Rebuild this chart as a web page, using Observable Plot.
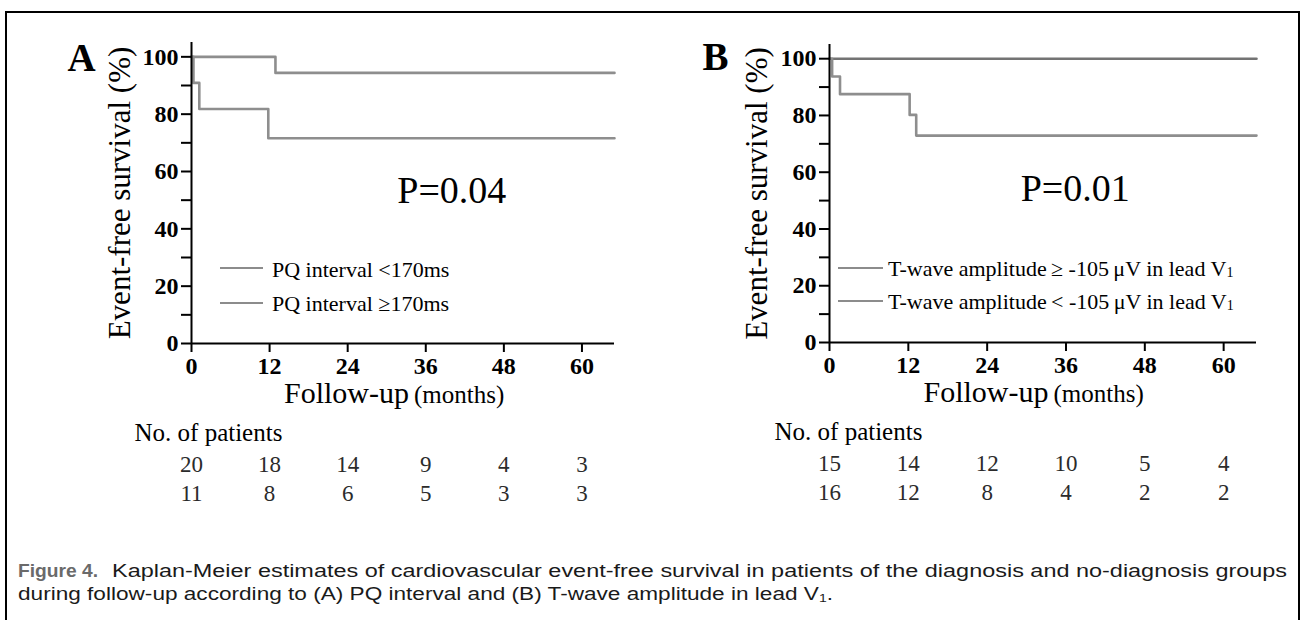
<!DOCTYPE html>
<html>
<head>
<meta charset="utf-8">
<script src="https://cdn.jsdelivr.net/npm/d3@7"></script>
<script src="https://cdn.jsdelivr.net/npm/@observablehq/plot@0.6"></script>
<style>
  html, body { margin: 0; padding: 0; background: #fff; width: 1304px; height: 620px; overflow: hidden; }
  #frame { position: absolute; left: 5px; top: 11px; width: 1295px; height: 700px; border: 2.5px solid #000; box-sizing: border-box; }
  .panel { position: absolute; top: 0; }
  .leg { position: absolute; font-family: "Liberation Serif", "Times New Roman", serif; font-size: 22px; line-height: 22px; white-space: nowrap; color: #000; }
  .sw { position: absolute; height: 2.6px; background: #8c8c8c; }
  .leg sub { font-size: 14px; vertical-align: baseline; position: relative; top: 1px; }
  .cap { position: absolute; font-family: "Liberation Sans", Arial, sans-serif; font-size: 18px; color: #1a1a1a; white-space: nowrap; transform-origin: 0 0; }
  .cap sub { font-size: 0.62em; vertical-align: baseline; position: relative; top: 2px; }
  #capFig { font-weight: bold; color: #6a6a6a; }
</style>
</head>
<body>
<div id="frame"></div>
<div id="panelA" class="panel" style="left:0px"></div>
<div id="panelB" class="panel" style="left:640px"></div>
<div id="legends"></div>
<div id="capFig" class="cap">Figure 4.</div>
<div id="capL1" class="cap">Kaplan-Meier estimates of cardiovascular event-free survival in patients of the diagnosis and no-diagnosis groups</div>
<div id="capL2" class="cap">during follow-up according to (A) PQ interval and (B) T-wave amplitude in lead V<sub>1</sub>.</div>
<script>
// ---------- data ----------
const monthTicks = [0, 12, 24, 36, 48, 60];
const pctTicks = [0, 10, 20, 30, 40, 50, 60, 70, 80, 90, 100];

// Panel A: PQ interval
const aShortTimes = [0, 12.9, 65];
const aShortSurv  = [100, 94.4, 94.4];
const aLongTimes  = [0, 0.3, 1.2, 11.8, 65];
const aLongSurv   = [100, 90.9, 81.8, 71.6, 71.6];
const aRiskShort  = [20, 18, 14, 9, 4, 3];
const aRiskLong   = [11, 8, 6, 5, 3, 3];
const aPValue = "P=0.04";
const aLegend = ["PQ interval <170ms", "PQ interval \u2265170ms"];

// Panel B: T-wave amplitude in V1
const bHighTimes = [0, 65];
const bHighSurv  = [100, 100];
const bLowTimes  = [0, 0.4, 1.6, 12.2, 13.2, 65];
const bLowSurv   = [100, 93.75, 87.5, 80.2, 72.9, 72.9];
const bRiskHigh  = [15, 14, 12, 10, 5, 4];
const bRiskLow   = [16, 12, 8, 4, 2, 2];
const bPValue = "P=0.01";
const bLegend = ["T-wave amplitude\u2009\u2265 -105\u2009\u03BCV in lead V<sub>1</sub>", "T-wave amplitude\u2009< -105\u2009\u03BCV in lead V<sub>1</sub>"];

const yTitle = "Event-free survival (%)";
const patientsLabel = "No. of patients";

// ---------- helpers ----------
const toRows = (times, surv) => times.map((t, i) => ({t, s: surv[i]}));

function panel({letter, curves, risk1, risk2, pValue, pAt, marginLeft, marginRight, marginTop, marginBottom, letterDx, letterDy, titleDx, xlabDx, patientsDx}) {
  const serif = "Liberation Serif, Times New Roman, serif";
  return Plot.plot({
    width: 650,
    height: 530,
    marginLeft, marginRight, marginTop, marginBottom,
    style: {fontFamily: serif, fontSize: "24px", background: "transparent", overflow: "visible", color: "#000"},
    x: {domain: [0, 65]},
    y: {domain: [0, 105]},
    marks: [
      ...curves.map(c => Plot.line(toRows(c.times, c.surv), {x: "t", y: "s", curve: "step-after", stroke: c.color, strokeWidth: 2.6})),
      Plot.axisX({ticks: monthTicks, tickSize: 9, tickPadding: 4, label: null, fontWeight: "bold", fontSize: 24, strokeWidth: 2}),
      Plot.axisY({ticks: pctTicks, tickFormat: d => d % 20 === 0 ? d : "", tickSize: 10, tickPadding: 3, label: null, fontWeight: "bold", fontSize: 24, strokeWidth: 2}),
      Plot.ruleX([0], {strokeWidth: 2}),
      Plot.ruleY([0], {strokeWidth: 2}),
      Plot.text([letter], {frameAnchor: "top-left", dx: letterDx, dy: letterDy, lineAnchor: "bottom", fontSize: 39, fontWeight: "bold"}),
      Plot.text([yTitle], {frameAnchor: "left", rotate: -90, textAnchor: "middle", dx: titleDx, lineAnchor: "bottom", fontSize: 31}),
      Plot.text([pValue], {x: () => pAt[0], y: () => pAt[1], lineAnchor: "bottom", fontSize: 38}),
      Plot.text(["Follow-up"], {frameAnchor: "bottom", textAnchor: "end", dx: xlabDx, dy: 59, lineAnchor: "bottom", fontSize: 30}),
      Plot.text(["(months)"], {frameAnchor: "bottom", textAnchor: "start", dx: xlabDx + 5, dy: 59, lineAnchor: "bottom", fontSize: 25}),
      Plot.text([patientsLabel], {frameAnchor: "bottom-left", textAnchor: "start", dx: patientsDx, dy: 97, lineAnchor: "bottom", fontSize: 25}),
      Plot.text(monthTicks, {x: d => d, text: (d, i) => risk1[i], frameAnchor: "bottom", dy: 128, lineAnchor: "bottom", fontSize: 23, fill: "#2b2b2b"}),
      Plot.text(monthTicks, {x: d => d, text: (d, i) => risk2[i], frameAnchor: "bottom", dy: 157, lineAnchor: "bottom", fontSize: 23, fill: "#2b2b2b"})
    ]
  });
}

document.getElementById("panelA").append(panel({
  letter: "A",
  curves: [
    {times: aShortTimes, surv: aShortSurv, color: "#8e8e8e"},
    {times: aLongTimes, surv: aLongSurv, color: "#8e8e8e"}
  ],
  risk1: aRiskShort, risk2: aRiskLong,
  pValue: aPValue, pAt: [40, 49],
  marginLeft: 191, marginRight: 36, marginTop: 42, marginBottom: 187,
  letterDx: -124, letterDy: 28, titleDx: -62, xlabDx: 6, patientsDx: -57
}));

document.getElementById("panelB").append(panel({
  letter: "B",
  curves: [
    {times: bHighTimes, surv: bHighSurv, color: "#737373"},
    {times: bLowTimes, surv: bLowSurv, color: "#8e8e8e"}
  ],
  risk1: bRiskHigh, risk2: bRiskLow,
  pValue: bPValue, pAt: [37.4, 50],
  marginLeft: 189, marginRight: 34, marginTop: 44, marginBottom: 188,
  letterDx: -127, letterDy: 25, titleDx: -63, xlabDx: 5.5, patientsDx: -55
}));

// ---------- legends ----------
const legendItems = [
  {label: aLegend[0], sx: 220, sw: 43, sy: 268, tx: 272, base: 277},
  {label: aLegend[1], sx: 220, sw: 43, sy: 303, tx: 272, base: 311},
  {label: bLegend[0], sx: 838, sw: 45, sy: 268, tx: 888, base: 276},
  {label: bLegend[1], sx: 838, sw: 45, sy: 301, tx: 888, base: 309}
];
const legends = document.getElementById("legends");
legendItems.forEach(d => {
  const sw = document.createElement("div");
  sw.className = "sw";
  sw.style.left = d.sx + "px"; sw.style.top = (d.sy - 1.3) + "px"; sw.style.width = d.sw + "px";
  legends.append(sw);
  const t = document.createElement("div");
  t.className = "leg";
  t.style.left = d.tx + "px"; t.style.top = (d.base - 18.4) + "px";
  t.innerHTML = d.label;
  legends.append(t);
});

// ---------- caption placement (horizontal stretch to the scanned widths) ----------
function place(id, left, baseline, size, width) {
  const el = document.getElementById(id);
  el.style.fontSize = size + "px";
  el.style.lineHeight = size + "px";
  el.style.left = left + "px";
  el.style.top = (baseline - 0.8465 * size) + "px";
  const w = el.getBoundingClientRect().width;
  el.style.transform = "scaleX(" + (width / w).toFixed(4) + ")";
}
place("capFig", 18, 578, 17.5, 80);
place("capL1", 112, 578, 17.5, 1175);
place("capL2", 18, 601, 17.5, 815);
</script>
</body>
</html>
